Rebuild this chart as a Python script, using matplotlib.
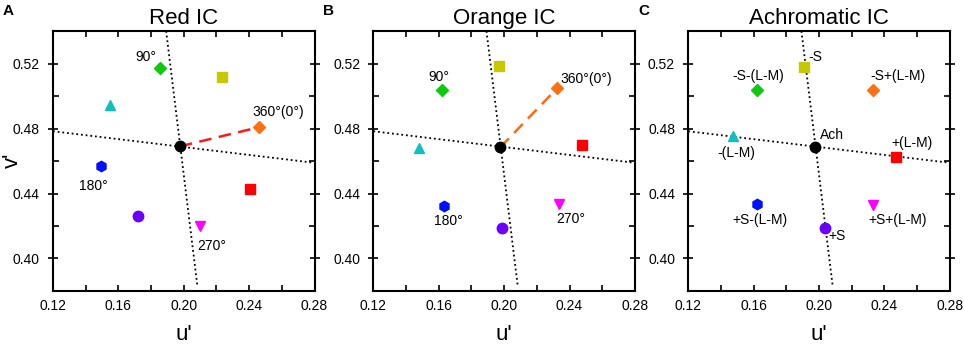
import numpy as np
import matplotlib
matplotlib.use("Agg")
import matplotlib.pyplot as plt
from matplotlib.ticker import MultipleLocator, FormatStrFormatter

plt.rcParams['font.family'] = ['Liberation Sans', 'DejaVu Sans']

# ---- data (u', v') ----
# point order: achromatic, yellow sq, green diamond, cyan tri, blue hex,
#              purple circle, magenta down-tri, red sq, orange diamond
red_u = [0.1976, 0.2234, 0.1854, 0.1548, 0.1491, 0.1719, 0.2098, 0.2403, 0.2460]
red_v = [0.4690, 0.5116, 0.5172, 0.4947, 0.4569, 0.4259, 0.4198, 0.4428, 0.4808]

orange_u = [0.1976, 0.1968, 0.1620, 0.1481, 0.1635, 0.1990, 0.2336, 0.2479, 0.2324]
orange_v = [0.4684, 0.5186, 0.5035, 0.4677, 0.4322, 0.4186, 0.4334, 0.4696, 0.5047]

ach_u = [0.1973, 0.1909, 0.1619, 0.1476, 0.1619, 0.2034, 0.2328, 0.2471, 0.2328]
ach_v = [0.4684, 0.5180, 0.5039, 0.4753, 0.4333, 0.4189, 0.4330, 0.4627, 0.5039]

# cardinal axes (dotted) through the achromatic point
s_axis_u = [0.1892, 0.2084]
s_axis_v = [0.5400, 0.3825]
lm_axis_u = [0.1200, 0.2790]
lm_axis_v = [0.4783, 0.4590]

# annotations
red_labels = ['90°', '360°(0°)', '180°', '270°']
red_lab_u = [0.1768, 0.2575, 0.1444, 0.2171]
red_lab_v = [0.5240, 0.4904, 0.4445, 0.4077]

orange_labels = ['90°', '360°(0°)', '180°', '270°']
orange_lab_u = [0.1601, 0.2503, 0.1658, 0.2406]
orange_lab_v = [0.5116, 0.5104, 0.4232, 0.4243]

ach_labels = ['-S', '-S-(L-M)', '-S+(L-M)', 'Ach', '+(L-M)', '-(L-M)',
              '+S-(L-M)', '+S+(L-M)', '+S']
ach_lab_u = [0.1977, 0.1629, 0.2484, 0.2079, 0.2569, 0.1496, 0.1637, 0.2482, 0.2109]
ach_lab_v = [0.5239, 0.5126, 0.5126, 0.4763, 0.4712, 0.4647, 0.4238, 0.4238, 0.4137]

# ---- styles ----
markers = ['o', 's', 'D', '^', 'h', 'o', 'v', 's', 'D']
colors = ['#000000', '#c8c800', '#10c810', '#10c0c0', '#0010ff',
          '#6a00ff', '#ff00ff', '#ff0000', '#ff7010']
msizes = [7.5, 6.5, 6.5, 7.5, 7.5, 7.5, 7.5, 6.5, 6.5]

fig = plt.figure(figsize=(9.64, 3.48), dpi=100)

panels = [
    ('A', 'Red IC', red_u, red_v, red_labels, red_lab_u, red_lab_v, '#ff1a1a', 0.0550),
    ('B', 'Orange IC', orange_u, orange_v, orange_labels, orange_lab_u, orange_lab_v, '#ff6a10', 0.3873),
    ('C', 'Achromatic IC', ach_u, ach_v, ach_labels, ach_lab_u, ach_lab_v, None, 0.7140),
]

for letter, title, u, v, labs, lu, lv, dash_col, left in panels:
    ax = fig.add_axes([left, 0.1638, 0.2713, 0.7471])
    ax.plot(s_axis_u, s_axis_v, color='black', ls=(0, (1, 1.6)), lw=1.3, zorder=1)
    ax.plot(lm_axis_u, lm_axis_v, color='black', ls=(0, (1, 1.6)), lw=1.3, zorder=1)
    if dash_col is not None:
        ax.plot([u[0], u[-1]], [v[0], v[-1]], color=dash_col, ls=(0, (5, 3)),
                lw=1.8, zorder=2)
    for i in range(len(u)):
        ax.plot(u[i], v[i], marker=markers[i], color=colors[i], ms=msizes[i],
                ls='none', zorder=3)
    for t, x, y in zip(labs, lu, lv):
        ax.text(x, y, t, ha='center', va='center', fontsize=10)

    ax.set_xlim(0.12, 0.28)
    ax.set_ylim(0.38, 0.54)
    ax.xaxis.set_major_locator(MultipleLocator(0.04))
    ax.xaxis.set_minor_locator(MultipleLocator(0.02))
    ax.yaxis.set_major_locator(MultipleLocator(0.04))
    ax.yaxis.set_minor_locator(MultipleLocator(0.02))
    ax.xaxis.set_major_formatter(FormatStrFormatter('%.2f'))
    ax.yaxis.set_major_formatter(FormatStrFormatter('%.2f'))
    ax.tick_params(which='both', direction='in', top=True, right=True,
                   length=4, width=1.2, labelsize=10, pad=6)
    ax.tick_params(axis='y', which='major', direction='inout', length=7)
    for sp in ax.spines.values():
        sp.set_linewidth(1.5)

    ax.set_xlabel("u'", fontsize=16, labelpad=8)
    ax.set_title(title, fontsize=16, pad=5)
    fig.text(left - 0.052, 0.967, letter, fontsize=11, fontweight='bold',
             ha='left', va='center')

fig.text(0.013, 0.54, "v'", fontsize=16, rotation=90, ha='center', va='center')

fig.savefig('out.png', dpi=100)
